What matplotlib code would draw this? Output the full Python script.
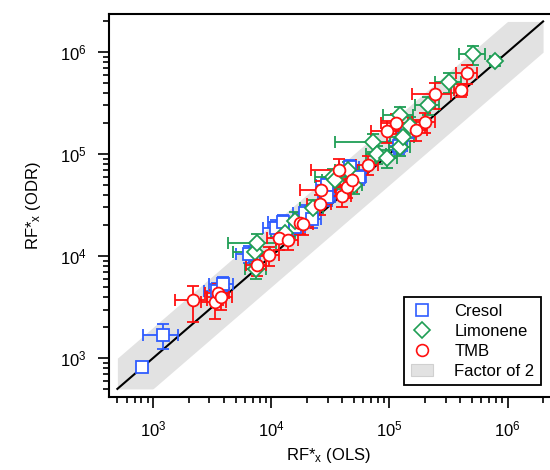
import numpy as np
import matplotlib
matplotlib.use("Agg")
import matplotlib.pyplot as plt
from matplotlib.lines import Line2D
from matplotlib.patches import Patch

plt.rcParams['font.family'] = ['Liberation Sans', 'DejaVu Sans']
plt.rcParams['mathtext.fontset'] = 'custom'
plt.rcParams['mathtext.rm'] = 'Liberation Sans'
plt.rcParams['mathtext.it'] = 'Liberation Sans:italic'

# Data: RF*x from OLS (x) vs ODR (y), with error bars
cresol_ols = [810, 1220, 3500, 3900, 6500, 11000, 12500, 16000, 19400, 22000,
              29800, 29800, 46700, 55000, 120000, 141000]
cresol_odr = [820, 1700, 4600, 5300, 10500, 19000, 21500, 19500, 26400, 23000,
              49600, 37900, 74000, 60000, 120000, 164000]
cresol_xerr = [60, 400, 800, 900, 1500, 2500, 3000, 3500, 4000, 4500,
               6000, 5000, 9000, 9000, 20000, 25000]
cresol_yerr = [60, 480, 900, 900, 2000, 3500, 4000, 3500, 5000, 4000,
               9000, 7000, 13000, 10000, 20000, 30000]

limonene_ols = [7300, 7600, 7500, 13000, 16000, 22700, 33500, 35000, 45000, 50000,
                73000, 79000, 96000, 124000, 124000, 131000, 150000, 214000,
                322000, 515000, 777000]
limonene_odr = [10900, 13400, 7500, 17000, 22000, 29500, 59600, 56000, 70000, 50000,
                131000, 100000, 91000, 117000, 240000, 147000, 190000, 300000,
                508000, 955000, 816000]
limonene_xerr = [2500, 3300, 1500, 3000, 4000, 5000, 10000, 8000, 10000, 9000,
                 38000, 15000, 20000, 25000, 35000, 30000, 35000, 50000,
                 80000, 130000, 60000]
limonene_yerr = [2500, 3000, 1500, 3500, 5000, 6000, 12000, 10000, 14000, 9000,
                 25000, 20000, 18000, 22000, 50000, 30000, 40000, 60000,
                 110000, 200000, 90000]

tmb_ols = [2200, 3350, 3560, 3770, 7600, 9660, 11700, 14000, 17600, 18500,
           26000, 26500, 37700, 39500, 44000, 48500, 66000, 95000, 115000,
           168000, 200000, 245000, 405000, 458000]
tmb_odr = [3700, 3540, 4340, 3960, 8170, 10230, 15000, 14500, 21100, 20500,
           32400, 44400, 69600, 39000, 47400, 55600, 79000, 170000, 201000,
           174000, 206000, 390000, 424000, 622000]
tmb_xerr = [650, 800, 800, 900, 1500, 2000, 2500, 3000, 4000, 4000,
            6000, 9000, 16000, 8000, 9000, 10000, 14000, 25000, 30000,
            40000, 45000, 90000, 50000, 90000]
tmb_yerr = [1450, 1100, 1000, 1000, 1800, 2200, 3500, 3000, 4500, 4500,
            7000, 10000, 20000, 9000, 10000, 12000, 17000, 40000, 45000,
            40000, 45000, 110000, 60000, 130000]

one_to_one_range = [500, 2e6]

blue = '#2f5cff'
green = '#1f9e55'
red = '#ff1010'
band_grey = '#e2e2e2'

fig = plt.figure(figsize=(5.5, 4.7), dpi=100)
ax = fig.add_axes([0.198, 0.155, 0.800, 0.815])
ax.set_xscale('log')
ax.set_yscale('log')

# factor of 2 band and 1:1 line
xx = np.geomspace(one_to_one_range[0], one_to_one_range[1], 400)
upper = np.minimum(2 * xx, one_to_one_range[1])
lower = np.maximum(xx / 2, one_to_one_range[0])
ax.fill_between(xx, lower, upper, color=band_grey, lw=0, zorder=1)
ax.plot(one_to_one_range, one_to_one_range, color='black', lw=1.5, zorder=2)

err_kw = dict(linestyle='none', capsize=4.5, elinewidth=1.3, capthick=1.3,
              mfc='white', mew=1.3, zorder=3)
ax.errorbar(cresol_ols, cresol_odr, xerr=cresol_xerr, yerr=cresol_yerr,
            fmt='s', ms=8, color=blue, mec=blue, **err_kw)
ax.errorbar(limonene_ols, limonene_odr, xerr=limonene_xerr, yerr=limonene_yerr,
            fmt='D', ms=8, color=green, mec=green, **err_kw)
ax.errorbar(tmb_ols, tmb_odr, xerr=tmb_xerr, yerr=tmb_yerr,
            fmt='o', ms=8.5, color=red, mec=red, **err_kw)

ax.set_xlim(424, 2.24e6)
ax.set_ylim(415, 2.36e6)

for side in ['left', 'bottom', 'top']:
    ax.spines[side].set_linewidth(1.5)
ax.spines['right'].set_visible(False)
ax.tick_params(which='major', direction='out', length=8, width=1.2,
               labelsize=12, pad=8, top=False, right=False)
ax.tick_params(which='minor', direction='out', length=4.5, width=1.2,
               top=False, right=False)
ax.set_xticks([1e3, 1e4, 1e5, 1e6])
ax.set_yticks([1e3, 1e4, 1e5, 1e6])

ax.set_xlabel(r'RF*$_{\mathregular{x}}$ (OLS)', fontsize=12, labelpad=5)
ax.set_ylabel(r'RF*$_{\mathregular{x}}$ (ODR)', fontsize=12, labelpad=12)

handles = [
    Line2D([0], [0], marker='s', ls='none', ms=8, mfc='white', mec=blue, mew=1.2),
    Line2D([0], [0], marker='D', ls='none', ms=8, mfc='white', mec=green, mew=1.2),
    Line2D([0], [0], marker='o', ls='none', ms=8.5, mfc='white', mec=red, mew=1.2),
    Patch(facecolor=band_grey, edgecolor='#d0d0d0', lw=0.8),
]
leg = ax.legend(handles, ['Cresol', 'Limonene', 'TMB', 'Factor of 2'],
                loc='lower right', bbox_to_anchor=(0.982, 0.031),
                borderaxespad=0, fancybox=False, edgecolor='black',
                fontsize=12, handlelength=1.3, handletextpad=1.3,
                labelspacing=0.3, borderpad=0.4, framealpha=1)
leg.get_frame().set_linewidth(1.3)

fig.savefig('out.png', dpi=100)
